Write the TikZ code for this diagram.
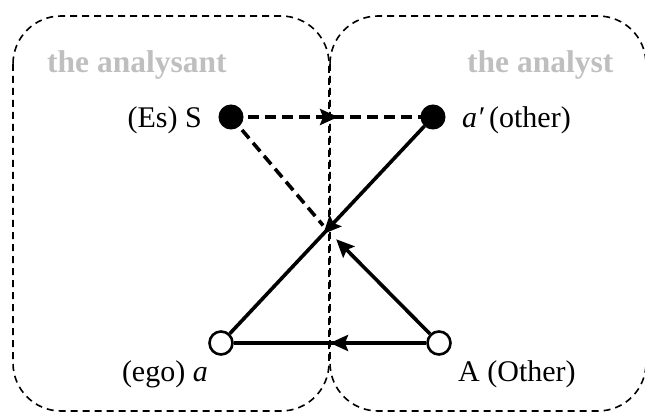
\documentclass[tikz,border=0pt]{standalone}
\usepackage{fontspec}
\setmainfont{Liberation Serif}
\usetikzlibrary{arrows.meta,decorations.markings}
\definecolor{lbl}{RGB}{191,191,191}
\tikzset{
  region/.style={draw, line width=1.6pt, dash pattern=on 7pt off 5pt, rounded corners=48pt},
  full/.style={circle, fill=black, draw=black, line width=1pt, minimum size=24pt, inner sep=0pt},
  empty/.style={circle, fill=white, draw=black, line width=2.6pt, minimum size=23pt, inner sep=0pt},
  txt/.style={font=\fontsize{30}{34}\selectfont, inner sep=0pt},
  side/.style={font=\fontsize{31.5}{36}\selectfont\bfseries, text=lbl, inner sep=0pt},
  conn/.style={line width=3.6pt},
  dconn/.style={line width=3.6pt, dash pattern=on 11pt off 6pt},
  tip/.style={-{Stealth[length=18pt,width=16pt,inset=3pt]}},
  midarrow/.style={postaction={decorate}, decoration={markings, mark=at position #1 with {\arrow{Stealth[length=18pt,width=16pt,inset=3pt]}}}}
}
\begin{document}
\begin{tikzpicture}[x=1pt,y=-1pt]
\useasboundingbox (0,0) rectangle (645,414);
\draw[region] (13,16) rectangle (329,411);
\draw[region] (330,16) rectangle (646,411);
\node[side, anchor=base west] (lan) at (47,73) {the analysant};
\node[side, anchor=base west] (lst) at (467,73) {the analyst};
\node[full] (S) at (231,117) {};
\node[full] (ap) at (433,117) {};
\node[empty] (a) at (221,343) {};
\node[empty] (A) at (439,343) {};
\coordinate (X) at (327,230);
\node[txt, anchor=base east] (tS) at (202,128) {(Es) S};
\node[txt, anchor=base west] (tap) at (462,128) {\textit{a′}\,(other)};
\node[txt, anchor=base east] (ta) at (208,381) {(ego) \textit{a}};
\node[txt, anchor=base west] (tA) at (458,381) {A (Other)};
\draw[dconn, midarrow=0.53] (S.center) -- (ap.center);
\draw[dconn, shorten >=6pt] (S.center) -- (X);
\draw[conn, midarrow=0.52] (ap) -- (a);
\draw[conn, midarrow=0.5] (A) -- (a);
\draw[conn, tip, shorten >=13pt] (A) -- (X);
\end{tikzpicture}
\end{document}
